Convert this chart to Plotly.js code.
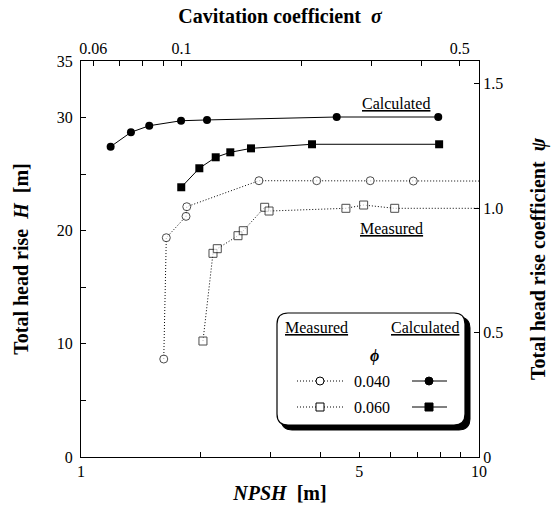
<!DOCTYPE html>
<html>
<head>
<meta charset="utf-8">
<script src="https://cdn.plot.ly/plotly-3.0.1.min.js"></script>
<style>html,body{margin:0;padding:0;background:#fff;}</style>
</head>
<body>
<div id="chart" style="width:553px;height:506px;"></div>
<script>
// ---- data ----
// Calculated, phi = 0.040 (filled circles)
const npshCalc040 = [1.187, 1.335, 1.484, 1.784, 2.073, 4.39, 7.90];
const hCalc040    = [27.43, 28.70, 29.28, 29.72, 29.79, 30.05, 30.05];
// Calculated, phi = 0.060 (filled squares)
const npshCalc060 = [1.786, 1.983, 2.18, 2.372, 2.674, 3.806, 7.94];
const hCalc060    = [23.84, 25.52, 26.49, 26.93, 27.28, 27.64, 27.64];
// Measured, phi = 0.040 (open circles); last entry = dotted line running on to the axis
const npshMeas040 = [1.614, 1.638, 1.836, 1.844, 2.80, 3.91, 5.33, 6.84, 10];
const hMeas040    = [8.66, 19.38, 21.27, 22.12, 24.42, 24.42, 24.42, 24.39, 24.39];
// Measured, phi = 0.060 (open squares); last entry = dotted line running on to the axis
const npshMeas060 = [2.025, 2.146, 2.20, 2.48, 2.557, 2.894, 2.968, 4.63, 5.13, 6.14, 10];
const hMeas060    = [10.25, 18.0, 18.41, 19.56, 20.0, 22.07, 21.74, 21.98, 22.27, 21.98, 21.98];

// axis scales
const npshRange = [1, 10];
const hRange = [0, 35];
const sigmaPerNpsh = 0.0559;   // sigma = 0.0559 * NPSH
const hAtPsiOne = 22;          // psi = H / 22

const xTickVals = [1, 2, 3, 4, 5, 6, 7, 8, 9, 10];
const xTickText = ['1', '', '', '', '5', '', '', '', '', '10'];
const sTickVals = [0.06, 0.07, 0.08, 0.09, 0.1, 0.2, 0.3, 0.4, 0.5];
const sTickText = ['0.06', '', '', '', '0.1', '', '', '', '0.5'];
const hTickVals = [0, 5, 10, 15, 20, 25, 30, 35];
const hTickText = ['0', '', '10', '', '20', '', '30', '35'];
const pTickVals = [0, 0.5, 1.0, 1.5];
const pTickText = ['0', '0.5', '1.0', '1.5'];

const legendPhi = ['0.040', '0.060'];

// ---- style ----
const FONT = 'Liberation Serif, Times New Roman, serif';
const W = 553, H = 506;
const M = {l: 81, r: 74, t: 61, b: 49};
const PW = W - M.l - M.r, PH = H - M.t - M.b;
const px = x => (x - M.l) / PW;        // pixel -> paper
const py = y => (H - M.b - y) / PH;
const DOT = '1px,2px';

function sizesHidingLast(n, s) { const a = new Array(n).fill(s); a[n - 1] = 0; return a; }

const traces = [
  {x: npshMeas040, y: hMeas040, mode: 'lines+markers', xaxis: 'x', yaxis: 'y',
   line: {color: '#000', width: 1, dash: DOT},
   marker: {symbol: 'circle', size: sizesHidingLast(npshMeas040.length, 8), color: '#fff',
            line: {color: '#000', width: sizesHidingLast(npshMeas040.length, 1)}},
   hoverinfo: 'skip'},
  {x: npshMeas060, y: hMeas060, mode: 'lines+markers', xaxis: 'x', yaxis: 'y',
   line: {color: '#000', width: 1, dash: DOT},
   marker: {symbol: 'square', size: sizesHidingLast(npshMeas060.length, 8), color: '#fff',
            line: {color: '#000', width: sizesHidingLast(npshMeas060.length, 1)}},
   hoverinfo: 'skip'},
  {x: npshCalc040, y: hCalc040, mode: 'lines+markers', xaxis: 'x', yaxis: 'y',
   line: {color: '#000', width: 1},
   marker: {symbol: 'circle', size: 8, color: '#000'}, hoverinfo: 'skip'},
  {x: npshCalc060, y: hCalc060, mode: 'lines+markers', xaxis: 'x', yaxis: 'y',
   line: {color: '#000', width: 1},
   marker: {symbol: 'square', size: 8, color: '#000'}, hoverinfo: 'skip'},
  // anchors for the secondary axes (invisible)
  {x: [npshRange[0] * sigmaPerNpsh], y: [hRange[0]], xaxis: 'x2', yaxis: 'y', mode: 'markers',
   marker: {opacity: 0}, hoverinfo: 'skip'},
  {x: [npshRange[0]], y: [hRange[0] / hAtPsiOne], xaxis: 'x', yaxis: 'y2', mode: 'markers',
   marker: {opacity: 0}, hoverinfo: 'skip'}
];

function rrect(x0, y0, x1, y1, r) {
  const P = (x, y) => px(x).toFixed(5) + ',' + py(y).toFixed(5);
  return 'M' + P(x0 + r, y0) + ' L' + P(x1 - r, y0) + ' Q' + P(x1, y0) + ' ' + P(x1, y0 + r) +
         ' L' + P(x1, y1 - r) + ' Q' + P(x1, y1) + ' ' + P(x1 - r, y1) +
         ' L' + P(x0 + r, y1) + ' Q' + P(x0, y1) + ' ' + P(x0, y1 - r) +
         ' L' + P(x0, y0 + r) + ' Q' + P(x0, y0) + ' ' + P(x0 + r, y0) + ' Z';
}

const shapes = [];
// legend box with shadow
shapes.push({type: 'path', xref: 'paper', yref: 'paper', path: rrect(281, 317, 470, 430, 11),
             fillcolor: '#000', line: {color: '#000', width: 1}, layer: 'above'});
shapes.push({type: 'path', xref: 'paper', yref: 'paper', path: rrect(277, 313, 465, 425, 11),
             fillcolor: '#fff', line: {color: '#000', width: 1.2}, layer: 'above'});
const rowY = [381, 407];
const r = 4;
rowY.forEach((y, i) => {
  shapes.push({type: 'line', xref: 'paper', yref: 'paper', x0: px(297), x1: px(343), y0: py(y), y1: py(y),
               line: {color: '#000', width: 1, dash: DOT}, layer: 'above'});
  shapes.push({type: 'line', xref: 'paper', yref: 'paper', x0: px(412), x1: px(447), y0: py(y), y1: py(y),
               line: {color: '#000', width: 1}, layer: 'above'});
  const kind = i === 0 ? 'circle' : 'rect';
  shapes.push({type: kind, xref: 'paper', yref: 'paper', x0: px(320 - r), x1: px(320 + r),
               y0: py(y + r), y1: py(y - r), fillcolor: '#fff', line: {color: '#000', width: 1}, layer: 'above'});
  shapes.push({type: kind, xref: 'paper', yref: 'paper', x0: px(429 - r), x1: px(429 + r),
               y0: py(y + r), y1: py(y - r), fillcolor: '#000', line: {color: '#000', width: 1}, layer: 'above'});
});

const ann = (text, x, y, size, extra) => Object.assign({
  text: text, xref: 'paper', yref: 'paper', x: px(x), y: py(y), showarrow: false,
  xanchor: 'center', yanchor: 'middle', font: {family: FONT, size: size, color: '#000'}
}, extra || {});

const annotations = [
  ann('<u>Calculated</u>', 396, 103, 16),
  ann('<u>Measured</u>', 391, 229, 16),
  ann('<u>Measured</u>', 316, 327, 16),
  ann('<u>Calculated</u>', 425, 327, 16),
  ann('<b><i>ϕ</i></b>', 374, 356, 16),
  ann(legendPhi[0], 372, rowY[0], 16),
  ann(legendPhi[1], 372, rowY[1], 16)
];

const tickFont = {family: FONT, size: 16, color: '#000'};
const titleFont = {family: FONT, size: 20, color: '#000'};
const axBase = {showgrid: false, zeroline: false, showline: true, linecolor: '#000', linewidth: 1,
                ticks: 'inside', ticklen: 5, tickcolor: '#000', tickwidth: 1, tickfont: tickFont,
                tickmode: 'array', automargin: false, fixedrange: true};

const layout = {
  width: W, height: H, margin: M,
  paper_bgcolor: '#fff', plot_bgcolor: '#fff', showlegend: false,
  font: {family: FONT, color: '#000'},
  xaxis: Object.assign({}, axBase, {type: 'log', range: [Math.log10(npshRange[0]), Math.log10(npshRange[1])],
    tickvals: xTickVals, ticktext: xTickText, side: 'bottom', anchor: 'y',
    title: {text: '<b><i>NPSH</i>\u00a0\u00a0[m]</b>', font: titleFont, standoff: 6}}),
  xaxis2: Object.assign({}, axBase, {type: 'log', overlaying: 'x', side: 'top', anchor: 'y',
    range: [Math.log10(npshRange[0] * sigmaPerNpsh), Math.log10(npshRange[1] * sigmaPerNpsh)],
    tickvals: sTickVals, ticktext: sTickText,
    title: {text: '<b>Cavitation coefficient\u00a0\u00a0<i>σ</i></b>', font: titleFont, standoff: 10}}),
  yaxis: Object.assign({}, axBase, {range: hRange, tickvals: hTickVals, ticktext: hTickText, side: 'left',
    ticklabelstandoff: 4,
    title: {text: '<b>Total head rise\u00a0\u00a0<i>H</i>\u00a0\u00a0[m]</b>', font: titleFont, standoff: 22}}),
  yaxis2: Object.assign({}, axBase, {overlaying: 'y', side: 'right', anchor: 'x',
    range: [hRange[0] / hAtPsiOne, hRange[1] / hAtPsiOne], tickvals: pTickVals, ticktext: pTickText,
    title: {text: '<b>Total head rise coefficient\u00a0\u00a0<i>ψ</i></b>', font: titleFont, standoff: 28}}),
  shapes: shapes,
  annotations: annotations
};

Plotly.newPlot('chart', traces, layout, {staticPlot: true, displayModeBar: false});
</script>
</body>
</html>
